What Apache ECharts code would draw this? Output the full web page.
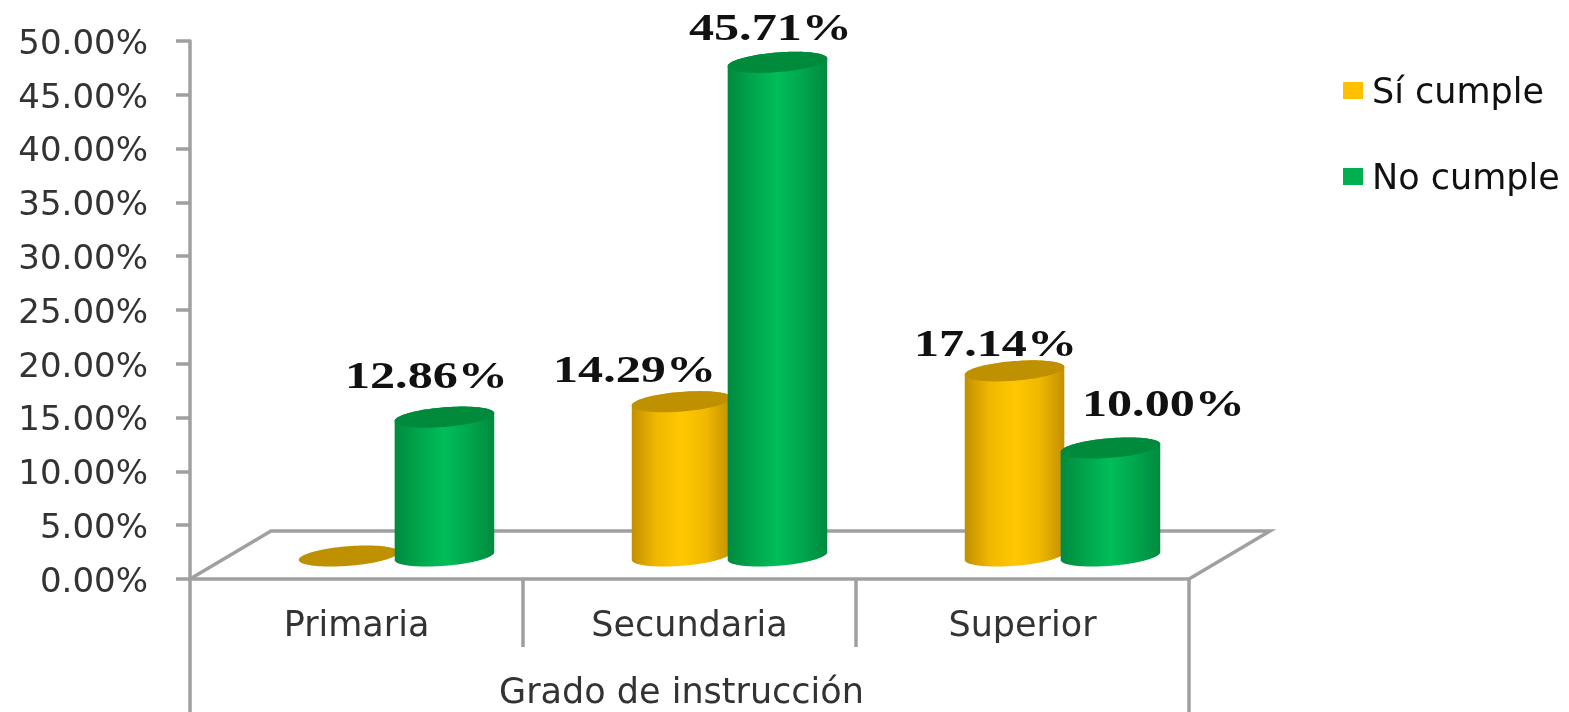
<!DOCTYPE html>
<html>
<head>
<meta charset="utf-8">
<title>Grado de instrucción</title>
<style>html,body{margin:0;padding:0;background:#fff}#chart{width:1569px;height:712px}</style>
<script src="https://cdn.jsdelivr.net/npm/echarts@6/dist/echarts.min.js"></script>
</head>
<body>
<div id="chart"></div>
<script>
// Chart data
const categories = ['Primaria', 'Secundaria', 'Superior'];
const groupTitle = ['Grado de instrucción'];
const siCumple = [0, 14.29, 17.14];
const noCumple = [12.86, 45.71, 10.00];

// Offsets of the value labels from the top of their cylinder, in pixels
const siLabelOffset = [null, [-47, -29], [-19, -25]];
const noLabelOffset = [[-18, -39], [-7, -32], [53, -42]];

const LINE = '#a0a0a0';
const TEXT = '#333333';
const AXIS_FONT = 'DejaVu Sans';
const FLOOR_DEPTH = [81, -48];
const TILT = -4.6 * Math.PI / 180;
const MINOR_RADIUS = 9.8;
const OVERLAP = 4;

// Point on an ellipse tilted to suggest the 3D perspective
function ellipsePoint(cx, cy, a, t) {
  const ex = a * Math.cos(t), ey = MINOR_RADIUS * Math.sin(t);
  return [cx + ex * Math.cos(TILT) - ey * Math.sin(TILT),
          cy + ex * Math.sin(TILT) + ey * Math.cos(TILT)];
}

function cylinderSeries(name, values, side, base, mid, edge, cap, labelOffset) {
  return {
    name,
    type: 'custom',
    xAxisIndex: 2,
    yAxisIndex: 1,
    z: side < 0 ? 3 : 4,
    clip: false,
    itemStyle: { color: base },
    encode: { x: 0, y: 1 },
    data: values.map((v, i) => [i, v]),
    renderItem(params, api) {
      const i = api.value(0), v = api.value(1);
      const top = api.coord([i, v]);
      const bottom = api.coord([i, 0]);
      const a = api.size([1, 0])[0] * 0.15;
      const cx = top[0] + side * a + (side < 0 ? OVERLAP : 0);
      const body = [], capPts = [];
      const N = 48;
      for (let k = 0; k <= N; k++) body.push(ellipsePoint(cx, bottom[1], a, Math.PI * k / N));
      for (let k = 0; k <= N; k++) body.push(ellipsePoint(cx, top[1], a, Math.PI + Math.PI * k / N));
      for (let k = 0; k < 2 * N; k++) capPts.push(ellipsePoint(cx, top[1], a, Math.PI * k / N));
      const children = [];
      if (v > 0) {
        children.push({
          type: 'polygon',
          shape: { points: body },
          style: {
            fill: new echarts.graphic.LinearGradient(0, 0, 1, 0, [
              { offset: 0, color: edge },
              { offset: 0.25, color: mid[0] },
              { offset: 0.5, color: mid[1] },
              { offset: 0.75, color: mid[0] },
              { offset: 1, color: edge }
            ])
          }
        });
      }
      children.push({ type: 'polygon', shape: { points: capPts }, style: { fill: cap } });
      const off = labelOffset[i];
      if (off) {
        children.push({
          type: 'text',
          x: cx + off[0],
          y: top[1] + off[1],
          scaleX: 1.32,
          z2: 10,
          style: {
            text: v.toFixed(2) + '%',
            fontFamily: 'Liberation Serif',
            fontWeight: 'bold',
            fontSize: 38,
            fill: '#111111',
            align: 'center',
            verticalAlign: 'middle'
          }
        });
      }
      return { type: 'group', children };
    }
  };
}

const chart = echarts.init(document.getElementById('chart'), null, { renderer: 'canvas' });
chart.setOption({
  animation: false,
  backgroundColor: '#ffffff',
  legend: {
    orient: 'vertical',
    left: 1343,
    top: 70,
    padding: 0,
    itemWidth: 20,
    itemHeight: 17,
    itemGap: 45,
    icon: 'rect',
    selectedMode: false,
    data: ['Sí cumple', 'No cumple'],
    formatter: name => '{a|' + name + '}',
    textStyle: {
      rich: {
        a: { fontFamily: AXIS_FONT, fontSize: 35, lineHeight: 34, color: '#111111', padding: [6, 0, 0, 4] }
      }
    }
  },
  grid: [
    { left: 190, top: 41, width: 999, height: 538 },   // front plane: visible axes
    { left: 228, top: 16, width: 999, height: 540 }    // mid-depth plane: cylinders
  ],
  xAxis: [
    {
      type: 'category', gridIndex: 0, data: categories,
      axisLine: { lineStyle: { color: LINE, width: 3.5 } },
      axisTick: { show: true, alignWithLabel: false, length: 68, lineStyle: { color: LINE, width: 3.5 } },
      axisLabel: { margin: 31, fontFamily: AXIS_FONT, fontSize: 35, color: TEXT, lineHeight: 34 }
    },
    {
      type: 'category', gridIndex: 0, data: groupTitle, position: 'bottom',
      axisLine: { show: false },
      axisTick: { show: true, alignWithLabel: false, length: 133, lineStyle: { color: LINE, width: 3.5 } },
      axisLabel: { margin: 98, fontFamily: AXIS_FONT, fontSize: 35, color: TEXT, lineHeight: 34, padding: [0, 16, 0, 0] }
    },
    { type: 'category', gridIndex: 1, data: categories, show: false }
  ],
  yAxis: [
    {
      type: 'value', gridIndex: 0, min: 0, max: 50, interval: 5,
      axisLine: { show: true, lineStyle: { color: LINE, width: 3.5 } },
      axisTick: { show: true, length: 14, lineStyle: { color: LINE, width: 3.5 } },
      splitLine: { show: false },
      axisLabel: {
        margin: 42, fontFamily: AXIS_FONT, fontSize: 34, color: TEXT,
        verticalAlign: 'top', lineHeight: 8,
        formatter: v => v.toFixed(2) + '%'
      }
    },
    { type: 'value', gridIndex: 1, min: 0, max: 50, interval: 5, show: false }
  ],
  series: [
    {
      // Floor outline behind the cylinders, projected from the front axis
      type: 'custom',
      xAxisIndex: 0,
      yAxisIndex: 0,
      z: 1,
      silent: true,
      clip: false,
      data: [[0, 0]],
      renderItem(params, api) {
        const origin = api.coord([0, 0]);
        const band = api.size([1, 0])[0];
        const left = origin[0] - band / 2, right = left + band * categories.length;
        return {
          type: 'polyline',
          shape: { points: [
            [left, origin[1]],
            [left + FLOOR_DEPTH[0], origin[1] + FLOOR_DEPTH[1]],
            [right + FLOOR_DEPTH[0], origin[1] + FLOOR_DEPTH[1]],
            [right, origin[1]]
          ] },
          style: { stroke: LINE, lineWidth: 3.5, fill: null }
        };
      }
    },
    cylinderSeries('Sí cumple', siCumple, -1, '#FFC000', ['#f0b800', '#ffc800'], '#c29000', '#bf9000', siLabelOffset),
    cylinderSeries('No cumple', noCumple, 1, '#00B050', ['#00a64c', '#00bd5a'], '#008a40', '#008a3c', noLabelOffset)
  ]
});
</script>
</body>
</html>
